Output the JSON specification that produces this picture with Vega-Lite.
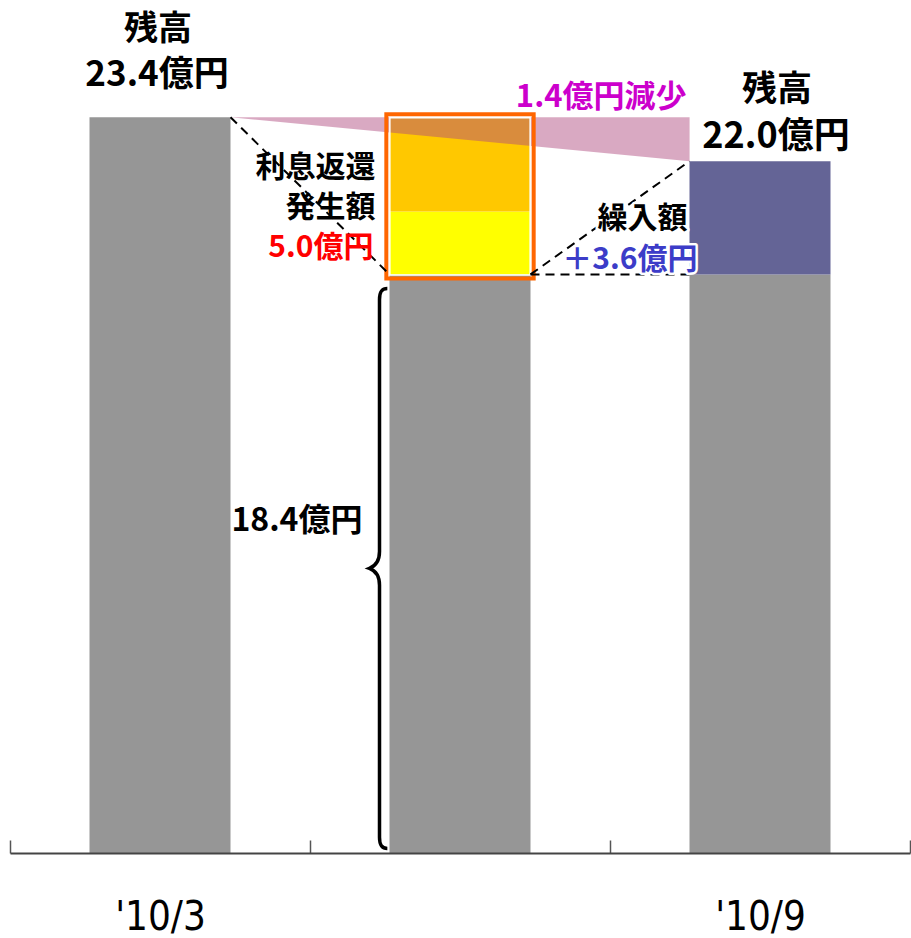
{
  "$schema": "https://vega.github.io/schema/vega-lite/v6.json",
  "width": 900,
  "height": 849,
  "autosize": "none",
  "padding": {"left": 10, "top": 4, "right": 1, "bottom": 85},
  "background": "white",
  "config": {"view": {"stroke": null}, "text": {"font": "Noto Sans CJK JP", "fontWeight": "bold"}},
  "layer": [
    {
      "data": {"values": [
        {"period": "'10/3", "part": "残高", "low": 0, "high": 23.4},
        {"period": "変動", "part": "残高", "low": 0, "high": 18.4},
        {"period": "変動", "part": "利息返還発生額1", "low": 18.4, "high": 20.4},
        {"period": "変動", "part": "利息返還発生額2", "low": 20.4, "high": 23.4},
        {"period": "'10/9", "part": "残高", "low": 0, "high": 18.4},
        {"period": "'10/9", "part": "繰入額", "low": 18.4, "high": 22.0}
      ]},
      "mark": {"type": "bar", "width": {"band": 0.47}},
      "encoding": {
        "x": {"field": "period", "type": "nominal",
          "scale": {"domain": ["'10/3", "変動", "'10/9"], "paddingInner": 0, "paddingOuter": 0},
          "axis": {"title": null, "labelAngle": 0, "labelExpr": "datum.value == '変動' ? '' : datum.value",
            "tickBand": "extent", "tickSize": -13, "tickColor": "#555555", "domainColor": "#444444",
            "tickWidth": 1.5, "domainWidth": 2, "grid": false, "zindex": 1,
            "labelFont": "DejaVu Sans Condensed", "labelFontSize": 40, "labelFontWeight": "normal",
            "labelColor": "black", "labelBaseline": "alphabetic", "labelPadding": 89}},
        "y": {"field": "low", "type": "quantitative", "scale": {"domain": [0, 27], "nice": false}, "axis": null},
        "y2": {"field": "high"},
        "color": {"field": "part", "type": "nominal",
          "scale": {"domain": ["残高", "利息返還発生額1", "利息返還発生額2", "繰入額"], "range": ["#969696", "#ffff00", "#ffc800", "#646496"]},
          "legend": null}
      }
    },
    {
      "data": {"values": [
        {"period": "'10/3", "top": 23.4, "bottom": 23.4},
        {"period": "'10/9", "top": 23.4, "bottom": 22.0}
      ]},
      "mark": {"type": "area", "color": "#b04c80", "opacity": 0.48},
      "encoding": {
        "x": {"field": "period", "type": "ordinal", "scale": {"type": "point", "domain": ["'10/3", "'10/9"], "padding": 0.48}, "axis": null},
        "y": {"field": "top", "type": "quantitative", "scale": {"domain": [0, 27], "nice": false}, "axis": null},
        "y2": {"field": "bottom"}
      }
    },
    {
      "layer": [
        {
          "data": {"values": [{"period": "変動", "low": 18.4, "high": 23.4}]},
          "mark": {"type": "bar", "filled": false, "color": "#ff6600", "strokeWidth": 4, "width": {"band": 1.045}, "yOffset": 4, "y2Offset": -3},
          "encoding": {
            "x": {"field": "period", "type": "nominal", "scale": {"domain": ["'10/3", "変動", "'10/9"], "paddingInner": 0.53, "paddingOuter": 0.265}, "axis": null},
            "y": {"field": "low", "type": "quantitative", "scale": {"domain": [0, 27], "nice": false}, "axis": null},
            "y2": {"field": "high"}
          }
        },
        {
          "data": {"values": [{"period": "変動", "low": 18.4, "high": 23.4}]},
          "mark": {"type": "bar", "filled": false, "color": "white", "strokeWidth": 1.5, "width": {"band": 0.995}, "yOffset": 0.5, "y2Offset": 0.5},
          "encoding": {
            "x": {"field": "period", "type": "nominal", "scale": {"domain": ["'10/3", "変動", "'10/9"], "paddingInner": 0.53, "paddingOuter": 0.265}, "axis": null},
            "y": {"field": "low", "type": "quantitative", "scale": {"domain": [0, 27], "nice": false}, "axis": null},
            "y2": {"field": "high"}
          }
        },
        {
          "data": {"values": [
            {"from": "'10/3", "to": "変動", "start": 23.4, "end": 18.4},
            {"from": "変動", "to": "'10/9", "start": 18.4, "end": 22.0},
            {"from": "変動", "to": "'10/9", "start": 18.4, "end": 18.4}
          ]},
          "mark": {"type": "rule", "color": "black", "strokeWidth": 2, "strokeDash": [9, 6]},
          "encoding": {
            "x": {"field": "from", "type": "nominal", "bandPosition": 1, "scale": {"domain": ["'10/3", "変動", "'10/9"], "paddingInner": 0.53, "paddingOuter": 0.265}, "axis": null},
            "x2": {"field": "to", "bandPosition": 0},
            "y": {"field": "start", "type": "quantitative", "scale": {"domain": [0, 27], "nice": false}, "axis": null},
            "y2": {"field": "end"}
          }
        },
        {
          "data": {"values": [{"period": "変動", "value": 18.4}]},
          "mark": {"type": "point", "filled": false, "color": "black", "opacity": 1, "strokeWidth": 3.5, "size": 313600, "xOffset": -10,
            "shape": "M0.028,0.05 C0.006,0.05 0,0.065 0,0.09 L0,0.99 C0,1.02 -0.01,1.04 -0.036,1.05 C-0.01,1.06 0,1.08 0,1.11 L0,2.01 C0,2.035 0.006,2.05 0.028,2.05"},
          "encoding": {
            "x": {"field": "period", "type": "nominal", "bandPosition": 0, "scale": {"domain": ["'10/3", "変動", "'10/9"], "paddingInner": 0.53, "paddingOuter": 0.265}, "axis": null},
            "y": {"field": "value", "type": "quantitative", "scale": {"domain": [0, 27], "nice": false}, "axis": null}
          }
        },
        {
          "data": {"values": [{"label": "残高", "period": "'10/3", "value": 23.4}]},
          "mark": {"type": "text", "fontSize": 34, "dy": -87, "dx": -2, "baseline": "middle", "align": "center", "color": "black"},
          "encoding": {
            "x": {"field": "period", "type": "nominal", "scale": {"domain": ["'10/3", "変動", "'10/9"], "paddingInner": 0.53, "paddingOuter": 0.265}, "axis": null},
            "y": {"field": "value", "type": "quantitative", "scale": {"domain": [0, 27], "nice": false}, "axis": null},
            "text": {"field": "label"}
          }
        },
        {
          "data": {"values": [{"label": "23.4億円", "period": "'10/3", "value": 23.4}]},
          "mark": {"type": "text", "fontSize": 35, "dy": -42, "dx": -3, "baseline": "middle", "align": "center", "color": "black"},
          "encoding": {
            "x": {"field": "period", "type": "nominal", "scale": {"domain": ["'10/3", "変動", "'10/9"], "paddingInner": 0.53, "paddingOuter": 0.265}, "axis": null},
            "y": {"field": "value", "type": "quantitative", "scale": {"domain": [0, 27], "nice": false}, "axis": null},
            "text": {"field": "label"}
          }
        },
        {
          "data": {"values": [{"label": "利息返還", "period": "変動", "value": 23.4}]},
          "mark": {"type": "text", "fontSize": 30, "dy": 51, "dx": -14, "baseline": "middle", "align": "right", "color": "black"},
          "encoding": {
            "x": {"field": "period", "type": "nominal", "bandPosition": 0, "scale": {"domain": ["'10/3", "変動", "'10/9"], "paddingInner": 0.53, "paddingOuter": 0.265}, "axis": null},
            "y": {"field": "value", "type": "quantitative", "scale": {"domain": [0, 27], "nice": false}, "axis": null},
            "text": {"field": "label"}
          }
        },
        {
          "data": {"values": [{"label": "発生額", "period": "変動", "value": 23.4}]},
          "mark": {"type": "text", "fontSize": 30, "dy": 91, "dx": -14, "baseline": "middle", "align": "right", "color": "black"},
          "encoding": {
            "x": {"field": "period", "type": "nominal", "bandPosition": 0, "scale": {"domain": ["'10/3", "変動", "'10/9"], "paddingInner": 0.53, "paddingOuter": 0.265}, "axis": null},
            "y": {"field": "value", "type": "quantitative", "scale": {"domain": [0, 27], "nice": false}, "axis": null},
            "text": {"field": "label"}
          }
        },
        {
          "data": {"values": [{"label": "5.0億円", "period": "変動", "value": 23.4}]},
          "mark": {"type": "text", "fontSize": 30, "dy": 131, "dx": -16, "baseline": "middle", "align": "right", "color": "#ff0000"},
          "encoding": {
            "x": {"field": "period", "type": "nominal", "bandPosition": 0, "scale": {"domain": ["'10/3", "変動", "'10/9"], "paddingInner": 0.53, "paddingOuter": 0.265}, "axis": null},
            "y": {"field": "value", "type": "quantitative", "scale": {"domain": [0, 27], "nice": false}, "axis": null},
            "text": {"field": "label"}
          }
        },
        {
          "data": {"values": [{"label": "1.4億円減少", "period": "'10/9", "value": 23.4}]},
          "mark": {"type": "text", "fontSize": 31, "dy": -19, "dx": -3, "baseline": "middle", "align": "right", "color": "#cc00cc"},
          "encoding": {
            "x": {"field": "period", "type": "nominal", "bandPosition": 0, "scale": {"domain": ["'10/3", "変動", "'10/9"], "paddingInner": 0.53, "paddingOuter": 0.265}, "axis": null},
            "y": {"field": "value", "type": "quantitative", "scale": {"domain": [0, 27], "nice": false}, "axis": null},
            "text": {"field": "label"}
          }
        },
        {
          "data": {"values": [{"label": "残高", "period": "'10/9", "value": 22.0}]},
          "mark": {"type": "text", "fontSize": 35, "dy": -71, "dx": 17, "baseline": "middle", "align": "center", "color": "black"},
          "encoding": {
            "x": {"field": "period", "type": "nominal", "scale": {"domain": ["'10/3", "変動", "'10/9"], "paddingInner": 0.53, "paddingOuter": 0.265}, "axis": null},
            "y": {"field": "value", "type": "quantitative", "scale": {"domain": [0, 27], "nice": false}, "axis": null},
            "text": {"field": "label"}
          }
        },
        {
          "data": {"values": [{"label": "22.0億円", "period": "'10/9", "value": 22.0}]},
          "mark": {"type": "text", "fontSize": 36, "dy": -24, "dx": 16, "baseline": "middle", "align": "center", "color": "black"},
          "encoding": {
            "x": {"field": "period", "type": "nominal", "scale": {"domain": ["'10/3", "変動", "'10/9"], "paddingInner": 0.53, "paddingOuter": 0.265}, "axis": null},
            "y": {"field": "value", "type": "quantitative", "scale": {"domain": [0, 27], "nice": false}, "axis": null},
            "text": {"field": "label"}
          }
        },
        {
          "data": {"values": [{"label": "繰入額", "period": "'10/9", "value": 18.4}]},
          "mark": {"type": "text", "fontSize": 30, "dy": -55, "dx": -2, "baseline": "middle", "align": "right", "color": "white", "stroke": "white", "strokeWidth": 5, "strokeJoin": "round"},
          "encoding": {
            "x": {"field": "period", "type": "nominal", "bandPosition": 0, "scale": {"domain": ["'10/3", "変動", "'10/9"], "paddingInner": 0.53, "paddingOuter": 0.265}, "axis": null},
            "y": {"field": "value", "type": "quantitative", "scale": {"domain": [0, 27], "nice": false}, "axis": null},
            "text": {"field": "label"}
          }
        },
        {
          "data": {"values": [{"label": "＋3.6億円", "period": "'10/9", "value": 18.4}]},
          "mark": {"type": "text", "fontSize": 30, "dy": -14, "dx": 8, "baseline": "middle", "align": "right", "color": "white", "stroke": "white", "strokeWidth": 5, "strokeJoin": "round"},
          "encoding": {
            "x": {"field": "period", "type": "nominal", "bandPosition": 0, "scale": {"domain": ["'10/3", "変動", "'10/9"], "paddingInner": 0.53, "paddingOuter": 0.265}, "axis": null},
            "y": {"field": "value", "type": "quantitative", "scale": {"domain": [0, 27], "nice": false}, "axis": null},
            "text": {"field": "label"}
          }
        },
        {
          "data": {"values": [{"label": "繰入額", "period": "'10/9", "value": 18.4}]},
          "mark": {"type": "text", "fontSize": 30, "dy": -55, "dx": -2, "baseline": "middle", "align": "right", "color": "black"},
          "encoding": {
            "x": {"field": "period", "type": "nominal", "bandPosition": 0, "scale": {"domain": ["'10/3", "変動", "'10/9"], "paddingInner": 0.53, "paddingOuter": 0.265}, "axis": null},
            "y": {"field": "value", "type": "quantitative", "scale": {"domain": [0, 27], "nice": false}, "axis": null},
            "text": {"field": "label"}
          }
        },
        {
          "data": {"values": [{"label": "＋3.6億円", "period": "'10/9", "value": 18.4}]},
          "mark": {"type": "text", "fontSize": 30, "dy": -14, "dx": 8, "baseline": "middle", "align": "right", "color": "#3c3cc8"},
          "encoding": {
            "x": {"field": "period", "type": "nominal", "bandPosition": 0, "scale": {"domain": ["'10/3", "変動", "'10/9"], "paddingInner": 0.53, "paddingOuter": 0.265}, "axis": null},
            "y": {"field": "value", "type": "quantitative", "scale": {"domain": [0, 27], "nice": false}, "axis": null},
            "text": {"field": "label"}
          }
        },
        {
          "data": {"values": [{"label": "18.4億円", "period": "変動", "value": 18.4}]},
          "mark": {"type": "text", "fontSize": 32, "dy": 247, "dx": -27, "baseline": "middle", "align": "right", "color": "black"},
          "encoding": {
            "x": {"field": "period", "type": "nominal", "bandPosition": 0, "scale": {"domain": ["'10/3", "変動", "'10/9"], "paddingInner": 0.53, "paddingOuter": 0.265}, "axis": null},
            "y": {"field": "value", "type": "quantitative", "scale": {"domain": [0, 27], "nice": false}, "axis": null},
            "text": {"field": "label"}
          }
        }
      ]
    }
  ],
  "resolve": {"scale": {"x": "independent"}}
}
